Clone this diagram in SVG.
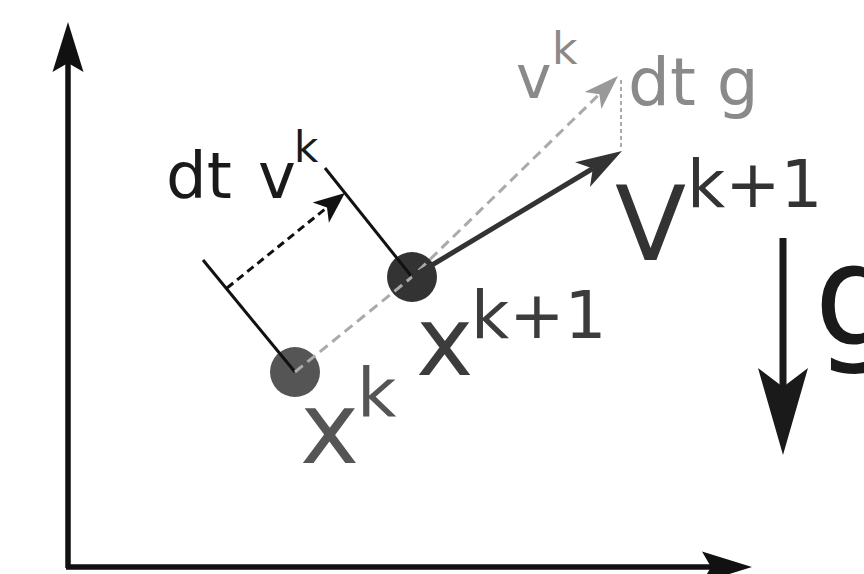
<svg xmlns="http://www.w3.org/2000/svg" width="864" height="574" viewBox="0 0 864 574">
<style>
text{font-family:"DejaVu Sans","Noto Sans",sans-serif}
.axis{stroke:#111;stroke-width:5.5;fill:none}
.tick{stroke:#111;stroke-width:3;fill:none}
.gray{fill:#8a8a8a}
</style>
<defs>
<marker id="mAxis" markerUnits="userSpaceOnUse" viewBox="-10 -16 52 32" markerWidth="52" markerHeight="32" refX="0" refY="0" orient="auto">
<path d="M41,0 L-9,-15.5 L0,0 L-9,15.5 Z" fill="#111"/>
</marker>
<marker id="mG" markerUnits="userSpaceOnUse" viewBox="-20 -26 90 52" markerWidth="90" markerHeight="52" refX="0" refY="0" orient="auto">
<path d="M68,0 L-19,-25 L0,0 L-19,25 Z" fill="#1a1a1a"/>
</marker>
<marker id="mV" markerUnits="userSpaceOnUse" viewBox="-13 -15 48 30" markerWidth="48" markerHeight="30" refX="0" refY="0" orient="auto">
<path d="M34,0 L-12,-14.5 L0,0 L-12,14.5 Z" fill="#333"/>
</marker>
<marker id="mGray" markerUnits="userSpaceOnUse" viewBox="-10 -13 37 26" markerWidth="37" markerHeight="26" refX="0" refY="0" orient="auto">
<path d="M26,0 L-9,-12 L0,0 L-9,12 Z" fill="#999"/>
</marker>
<marker id="mDim" markerUnits="userSpaceOnUse" viewBox="-9 -14 33 28" markerWidth="33" markerHeight="28" refX="0" refY="0" orient="auto">
<path d="M23,0 L-8,-13 L0,0 L-8,13 Z" fill="#111"/>
</marker>
</defs>
<rect width="864" height="574" fill="#fff"/>

<g id="axes">
<path class="axis" d="M68,568 L68,63" marker-end="url(#mAxis)"/>
<path class="axis" d="M66,567 L711,567" marker-end="url(#mAxis)"/>
</g>

<g id="node-xk">
<circle cx="295" cy="372" r="25" fill="#555"/>
<text x="300" y="463" font-size="100" fill="#555">x</text>
<text x="357" y="417" font-size="68" fill="#555">k</text>
</g>

<g id="node-xk1">
<circle cx="412" cy="277" r="25" fill="#333"/>
<text x="416" y="375" font-size="97" fill="#3c3c3c">x</text>
<text x="471" y="338" font-size="66" fill="#3c3c3c">k+1</text>
</g>

<g id="connectors">
<path class="tick" d="M203,260 L295,372"/>
<path class="tick" d="M325,168 L412,277"/>
<path d="M227,288 L327,207.5" stroke="#111" stroke-width="3" stroke-dasharray="8,5" fill="none" marker-end="url(#mDim)"/>
<path d="M295,372 L412,277 L599.4,94.2" stroke="#aaa" stroke-width="3" stroke-dasharray="10,6" fill="none" marker-end="url(#mGray)"/>
<path d="M621,80 L621,150" stroke="#aaa" stroke-width="2" stroke-dasharray="4,3" fill="none"/>
<path d="M412,277 L592.8,168.5" stroke="#333" stroke-width="5" fill="none" marker-end="url(#mV)"/>
<path d="M783,238 L783,387" stroke="#1a1a1a" stroke-width="7" fill="none" marker-end="url(#mG)"/>
</g>

<g id="labels">
<text x="166" y="198" font-size="64" fill="#1a1a1a">dt<tspan x="258">v</tspan><tspan x="294" y="162" font-size="42">k</tspan></text>
<text x="516" y="98" font-size="60" class="gray">v<tspan x="552" y="64" font-size="44">k</tspan></text>
<text x="628" y="105" font-size="66" class="gray">dt g</text>
<text x="615" y="260" font-size="104" fill="#333">V<tspan x="687" y="207" font-size="66">k+1</tspan></text>
<text x="814" y="345" font-size="140" fill="#1a1a1a">g</text>
</g>
</svg>
